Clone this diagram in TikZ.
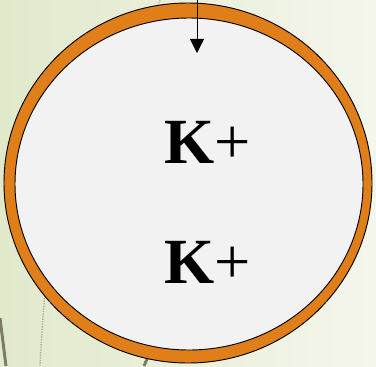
\documentclass[tikz,border=0pt]{standalone}
\usepackage{fontspec}
\setmainfont{Liberation Serif}
\usetikzlibrary{arrows.meta}
\definecolor{membrane}{HTML}{E07E1A}
\definecolor{cytoplasm}{HTML}{F2F2F2}
\definecolor{bgleft}{HTML}{E1E9CB}
\definecolor{bgright}{HTML}{F4F6EC}
\definecolor{streak}{HTML}{7D7A68}
\tikzset{
    ion/.style={font=\fontsize{55}{60}\selectfont, inner sep=0pt},
    flow/.style={-{Triangle[length=0.42cm, width=0.42cm]}, line width=0.8pt}
}
\begin{document}
\begin{tikzpicture}[x=0.03cm, y=-0.03cm]
    % background
    \shade[left color=bgleft, right color=bgright] (0,0) rectangle (376,366);
    \useasboundingbox (0,0) rectangle (376,366);
    \draw[streak!60, line width=1pt, densely dotted] (160,0) -- (157,8);
    \draw[streak!60, line width=1.2pt, densely dotted] (53,190) .. controls (48,260) and (42,320) .. (40,366);
    \draw[streak, line width=2.5pt] (0,318) -- (6,366);
    \draw[streak, line width=2.5pt] (144,366) -- (150,352);

    % cell
    \draw[line width=0.8pt, fill=membrane] (188,183) ellipse [x radius=184, y radius=180];
    \draw[line width=0.8pt, fill=cytoplasm] (189,184) ellipse [x radius=174, y radius=166];

    % ions
    \node[ion] (ion1) at (208,142) {\textbf{K}+};
    \node[ion] (ion2) at (208,262) {\textbf{K}+};

    % inflow
    \coordinate (entry) at (197,-2);
    \coordinate (tip) at (197,53);
    \draw[flow] (entry) -- (tip);
\end{tikzpicture}
\end{document}
